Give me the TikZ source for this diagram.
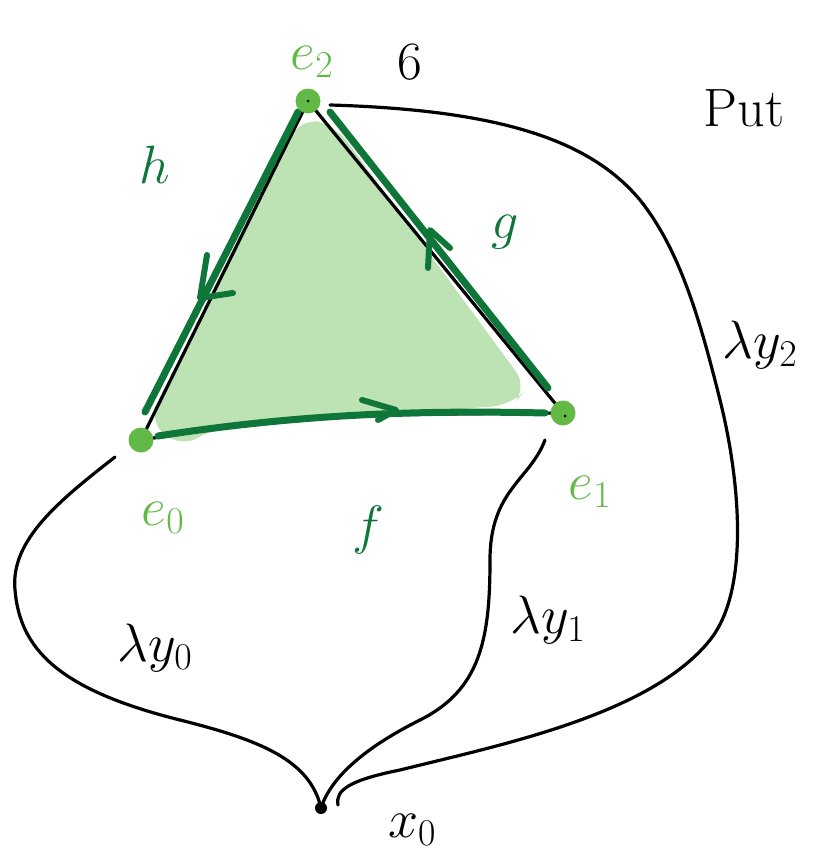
\RequirePackage{fix-cm}
\documentclass[tikz,border=0pt]{standalone}
\usepackage{fontspec}
\begin{document}
\begin{tikzpicture}[x=1pt,y=-1pt,
  dgreen/.style={draw=dg,line width=7pt,line cap=round,line join=round},
  blk/.style={draw=black,line width=3.2pt,line cap=round,line join=round},
  arr/.style={draw=dg,line width=6pt,line cap=round,line join=round},
  lab/.style={font=\fontsize{54}{56}\selectfont},
  dot/.style={circle,fill=lg,inner sep=0pt,minimum size=25pt}]
\definecolor{dg}{HTML}{0E7639}
\definecolor{lg}{HTML}{62B946}
\definecolor{fillg}{HTML}{BDE3B5}
\useasboundingbox (0,0) rectangle (812,859);
% fill
\fill[fillg,rounded corners=20pt] (300,118) -- (335,125) -- (528,388) -- (512,405) -- (215,428) -- (180,448) -- (148,420) -- (200,320) -- cycle;
% black edges
\draw[blk] (141,440) -- (308,101);
\draw[blk] (308,101) -- (563,413);
\draw[blk] (141,440) .. controls (300,415) .. (563,413);
% green edges
\draw[dgreen] (145,412) -- (298,112);
\draw[dgreen] (330,112) -- (548,388);
\draw[dgreen] (158,436) .. controls (300,414) and (420,410) .. (545,413);
% vertices
\node[dot] (e2) at (308,101) {};
\node[dot] (e0) at (141,440) {};
\node[dot] (e1) at (563,413) {};
\fill[black] (308,101) circle (1.5pt);
\fill[black] (565,416) circle (1.5pt);
% arrows
\draw[arr] (362,400) -- (396,410) -- (378,420);
\draw[arr] (428,268) -- (430,230) -- (450,248);
\draw[arr] (207,255) -- (200,298) -- (233,293);
% labels
\node[lab,text=lg] (le2) at (312,62) {$e_2$};
\node[lab,text=lg] (le0) at (163,518) {$e_0$};
\node[lab,text=lg] (le1) at (590,492) {$e_1$};
\node[lab,text=dg] (lf) at (368,530) {$f$};
\node[lab,text=dg] (lg) at (505,232) {$g$};
\node[lab,text=dg] (lh) at (155,165) {$h$};
\node[lab] (l6) at (410,62) {6};
\node[lab,anchor=west] (lput) at (700,108) {Put};
\node[lab] (ly2) at (760,345) {$\lambda y_2$};
\node[lab] (ly1) at (548,620) {$\lambda y_1$};
\node[lab] (ly0) at (155,648) {$\lambda y_0$};
\node[lab] (lx0) at (412,830) {$x_0$};
% base point
\node[circle,fill=black,inner sep=0pt,minimum size=12pt] (x0) at (321,808) {};
% black curves
\draw[blk] (115,457) .. controls (60,500) and (10,540) .. (15,590)
   .. controls (20,650) and (60,690) .. (180,720)
   .. controls (260,740) and (310,760) .. (x0.center);
\draw[blk] (545,440) .. controls (530,480) and (490,490) .. (490,560)
   .. controls (490,640) and (480,690) .. (420,720)
   .. controls (360,750) and (330,780) .. (x0.center);
\draw[blk] (338,805) .. controls (335,790) and (350,780) .. (400,770)
   .. controls (500,745) and (650,715) .. (710,640)
   .. controls (750,590) and (740,480) .. (720,400)
   .. controls (700,320) and (680,250) .. (640,200)
   .. controls (590,140) and (500,110) .. (330,105);
\end{tikzpicture}
\end{document}
